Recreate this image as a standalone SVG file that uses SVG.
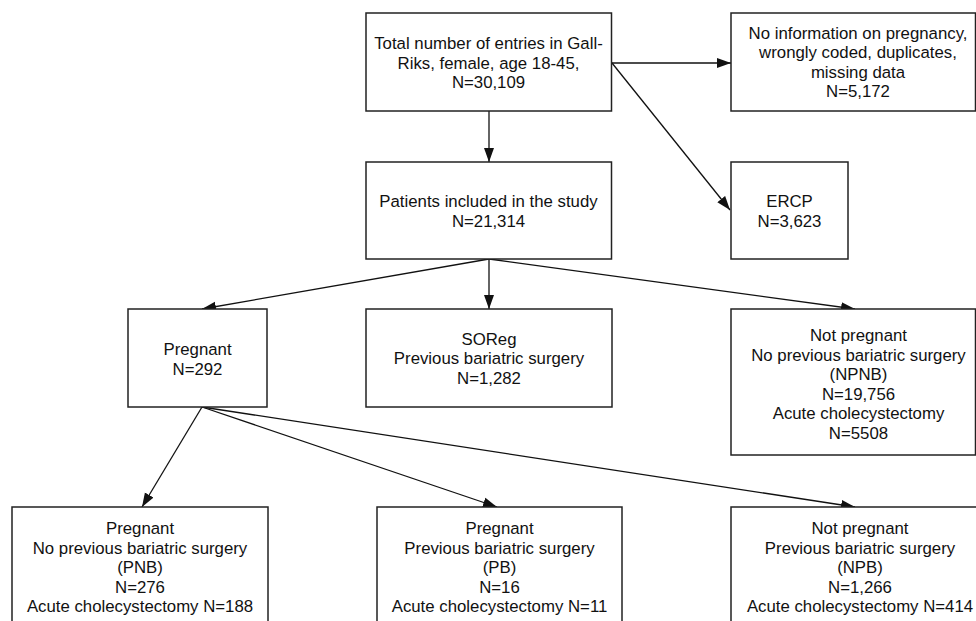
<svg xmlns="http://www.w3.org/2000/svg" width="976" height="621" viewBox="0 0 976 621">
<style>
.box{fill:#fff;stroke:#222;stroke-width:1.5}
.t{font-family:"Liberation Sans",Arial,Helvetica,sans-serif;font-size:16.8px;fill:#111;text-anchor:middle}
.c{stroke:#111;stroke-width:1.3;fill:none;marker-end:url(#ah)}
</style>
<defs>
<marker id="ah" markerUnits="userSpaceOnUse" markerWidth="15" markerHeight="11" refX="14" refY="5.5" orient="auto">
<path d="M0,0.5 L14,5.5 L0,10.5 z" fill="#111"/>
</marker>
</defs>
<rect width="976" height="621" fill="#fff"/>
<g id="connectors">
<line class="c" x1="489" y1="111" x2="489" y2="162"/>
<line class="c" x1="612" y1="63" x2="731" y2="63"/>
<line class="c" x1="612" y1="63" x2="730" y2="210"/>
<line class="c" x1="489" y1="259" x2="202" y2="309"/>
<line class="c" x1="489" y1="259" x2="489" y2="309"/>
<line class="c" x1="489" y1="259" x2="855" y2="309"/>
<line class="c" x1="202" y1="407" x2="142" y2="507"/>
<line class="c" x1="202" y1="407" x2="497" y2="507"/>
<line class="c" x1="202" y1="407" x2="855" y2="507"/>
</g>
<g id="total">
<rect class="box" x="366" y="13" width="245.5" height="98"/>
<text class="t" x="488.5" y="49">Total number of entries in Gall-</text>
<text class="t" x="488.5" y="68.5">Riks, female, age 18-45,</text>
<text class="t" x="488.5" y="88">N=30,109</text>
</g>
<g id="excluded">
<rect class="box" x="731" y="13" width="244.5" height="98"/>
<text class="t" x="858" y="38.5">No information on pregnancy,</text>
<text class="t" x="858" y="58">wrongly coded, duplicates,</text>
<text class="t" x="858" y="77.5">missing data</text>
<text class="t" x="858" y="97">N=5,172</text>
</g>
<g id="included">
<rect class="box" x="366" y="162" width="245.5" height="97"/>
<text class="t" x="488.5" y="207">Patients included in the study</text>
<text class="t" x="488.5" y="226.5">N=21,314</text>
</g>
<g id="ercp">
<rect class="box" x="731" y="162" width="117" height="97"/>
<text class="t" x="789.5" y="207">ERCP</text>
<text class="t" x="789.5" y="226.5">N=3,623</text>
</g>
<g id="pregnant">
<rect class="box" x="128" y="309" width="139" height="98"/>
<text class="t" x="197.5" y="355">Pregnant</text>
<text class="t" x="197.5" y="374.5">N=292</text>
</g>
<g id="soreg">
<rect class="box" x="366" y="309" width="246" height="98"/>
<text class="t" x="489" y="344.5">SOReg</text>
<text class="t" x="489" y="364">Previous bariatric surgery</text>
<text class="t" x="489" y="383.5">N=1,282</text>
</g>
<g id="npnb">
<rect class="box" x="731" y="309" width="244.5" height="146"/>
<text class="t" x="858.5" y="341">Not pregnant</text>
<text class="t" x="858.5" y="360.5">No previous bariatric surgery</text>
<text class="t" x="858.5" y="380">(NPNB)</text>
<text class="t" x="858.5" y="399.5">N=19,756</text>
<text class="t" x="858.5" y="419">Acute cholecystectomy</text>
<text class="t" x="858.5" y="438.5">N=5508</text>
</g>
<g id="pnb">
<rect class="box" x="12" y="507" width="256" height="130"/>
<text class="t" x="140" y="534">Pregnant</text>
<text class="t" x="140" y="553.5">No previous bariatric surgery</text>
<text class="t" x="140" y="573">(PNB)</text>
<text class="t" x="140" y="592.5">N=276</text>
<text class="t" x="140" y="612">Acute cholecystectomy N=188</text>
</g>
<g id="pb">
<rect class="box" x="377" y="507" width="245" height="130"/>
<text class="t" x="499.5" y="534">Pregnant</text>
<text class="t" x="499.5" y="553.5">Previous bariatric surgery</text>
<text class="t" x="499.5" y="573">(PB)</text>
<text class="t" x="499.5" y="592.5">N=16</text>
<text class="t" x="499.5" y="612">Acute cholecystectomy N=11</text>
</g>
<g id="npb">
<rect class="box" x="731" y="507" width="260" height="130"/>
<text class="t" x="860" y="534">Not pregnant</text>
<text class="t" x="860" y="553.5">Previous bariatric surgery</text>
<text class="t" x="860" y="573">(NPB)</text>
<text class="t" x="860" y="592.5">N=1,266</text>
<text class="t" x="860" y="612">Acute cholecystectomy N=414</text>
</g>
</svg>
